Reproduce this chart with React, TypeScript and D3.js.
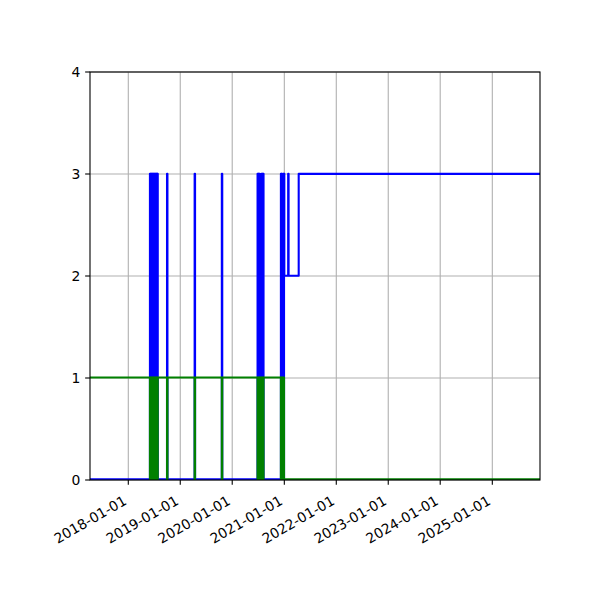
import React from "react";
import * as d3 from "d3";

const switchDates: string[] = [
  "2017-04-07",
  "2018-06-02", "2018-06-05", "2018-06-08", "2018-06-11", "2018-06-14", "2018-06-17",
  "2018-06-20", "2018-06-23", "2018-06-26", "2018-06-29", "2018-07-02", "2018-07-05",
  "2018-07-08", "2018-07-11", "2018-07-14", "2018-07-17", "2018-07-20", "2018-07-23",
  "2018-07-25", "2018-07-27",
  "2018-09-30", "2018-10-03",
  "2019-04-12", "2019-04-15",
  "2019-10-20", "2019-10-23",
  "2020-06-27", "2020-06-30", "2020-07-03", "2020-07-06", "2020-07-09", "2020-07-11",
  "2020-07-24", "2020-07-27", "2020-07-31", "2020-08-03", "2020-08-06", "2020-08-08",
  "2020-12-08", "2020-12-11", "2020-12-14", "2020-12-17", "2020-12-26", "2020-12-28",
  "2020-12-30", "2021-01-01",
  "2021-01-28", "2021-01-31",
  "2021-04-12",
  "2025-12-02",
];

const blueValues: number[] = [
  0,
  3, 0, 3, 0, 3, 0,
  3, 0, 3, 0, 3, 0,
  3, 0, 3, 0, 3, 0,
  3, 0,
  3, 0,
  3, 0,
  3, 0,
  3, 0, 3, 0, 3, 0,
  3, 0, 3, 0, 3, 0,
  3, 0, 3, 0, 3, 0,
  3, 2,
  3, 2,
  3,
  3,
];

const greenValues: number[] = [
  1,
  0, 1, 0, 1, 0, 1,
  0, 1, 0, 1, 0, 1,
  0, 1, 0, 1, 0, 1,
  0, 1,
  0, 1,
  0, 1,
  0, 1,
  0, 1, 0, 1, 0, 1,
  0, 1, 0, 1, 0, 1,
  0, 1, 0, 1, 0, 1,
  0, 0,
  0, 0,
  0,
  0,
];

const yTicks: number[] = [0, 1, 2, 3, 4];
const xTickYears: string[] = [
  "2018-01-01", "2019-01-01", "2020-01-01", "2021-01-01",
  "2022-01-01", "2023-01-01", "2024-01-01", "2025-01-01",
];
const xDomain: string[] = ["2017-04-07", "2025-12-02"];

const W = 600, H = 600;
const L = 90, R = 540, T = 72, B = 480;
const FONT = "DejaVu Sans, sans-serif";

export default function App() {
  const parse = (s: string) => new Date(s + "T00:00:00Z");
  const x = d3.scaleUtc().domain(xDomain.map(parse)).range([L, R]);
  const y = d3.scaleLinear().domain([0, 4]).range([B, T]);
  const yLine = d3.scaleLinear().domain([0, 4]).range([B - 0.6, T]);
  const line = d3
    .line<[Date, number]>()
    .x((d) => x(d[0]))
    .y((d) => yLine(d[1]))
    .curve(d3.curveStepAfter);
  const dates = switchDates.map(parse);
  const blue = line(dates.map((d, i) => [d, blueValues[i]] as [Date, number])) || "";
  const green = line(dates.map((d, i) => [d, greenValues[i]] as [Date, number])) || "";
  const tickLen = 4.86;
  return (
    <svg
      width={W}
      height={H}
      style={{ position: "fixed", left: 0, top: 0, background: "#fff" }}
      fontFamily={FONT}
    >
      <rect x={0} y={0} width={W} height={H} fill="#fff" />
      <defs>
        <clipPath id="plot">
          <rect x={L} y={T} width={R - L} height={B - T} />
        </clipPath>
      </defs>
      {xTickYears.map((s) => (
        <line key={"gx" + s} x1={x(parse(s))} x2={x(parse(s))} y1={T} y2={B} stroke="#b0b0b0" strokeWidth={1.1} />
      ))}
      {yTicks.map((v) => (
        <line key={"gy" + v} x1={L} x2={R} y1={y(v)} y2={y(v)} stroke="#b0b0b0" strokeWidth={1.1} />
      ))}
      <g clipPath="url(#plot)">
        <path d={blue} fill="none" stroke="#0000ff" strokeWidth={2.08} strokeLinejoin="round" />
        <path d={green} fill="none" stroke="#008000" strokeWidth={2.08} strokeLinejoin="round" />
      </g>
      <rect x={L} y={T} width={R - L} height={B - T} fill="none" stroke="#000" strokeWidth={1.1} />
      {yTicks.map((v) => (
        <g key={"ty" + v}>
          <line x1={L - tickLen} x2={L} y1={y(v)} y2={y(v)} stroke="#000" strokeWidth={1.1} />
          <text x={L - tickLen - 4.86} y={y(v)} dy="0.36em" textAnchor="end" fontSize={13.9} fill="#000">
            {v}
          </text>
        </g>
      ))}
      {xTickYears.map((s) => {
        const px = x(parse(s));
        return (
          <g key={"tx" + s}>
            <line x1={px} x2={px} y1={B} y2={B + tickLen} stroke="#000" strokeWidth={1.1} />
            <g transform={`translate(${px - 6},${B + tickLen + 9.5}) rotate(-30)`}>
              <text x={0} y={10.6} textAnchor="end" fontSize={13.9} fill="#000">
                {s}
              </text>
            </g>
          </g>
        );
      })}
    </svg>
  );
}
